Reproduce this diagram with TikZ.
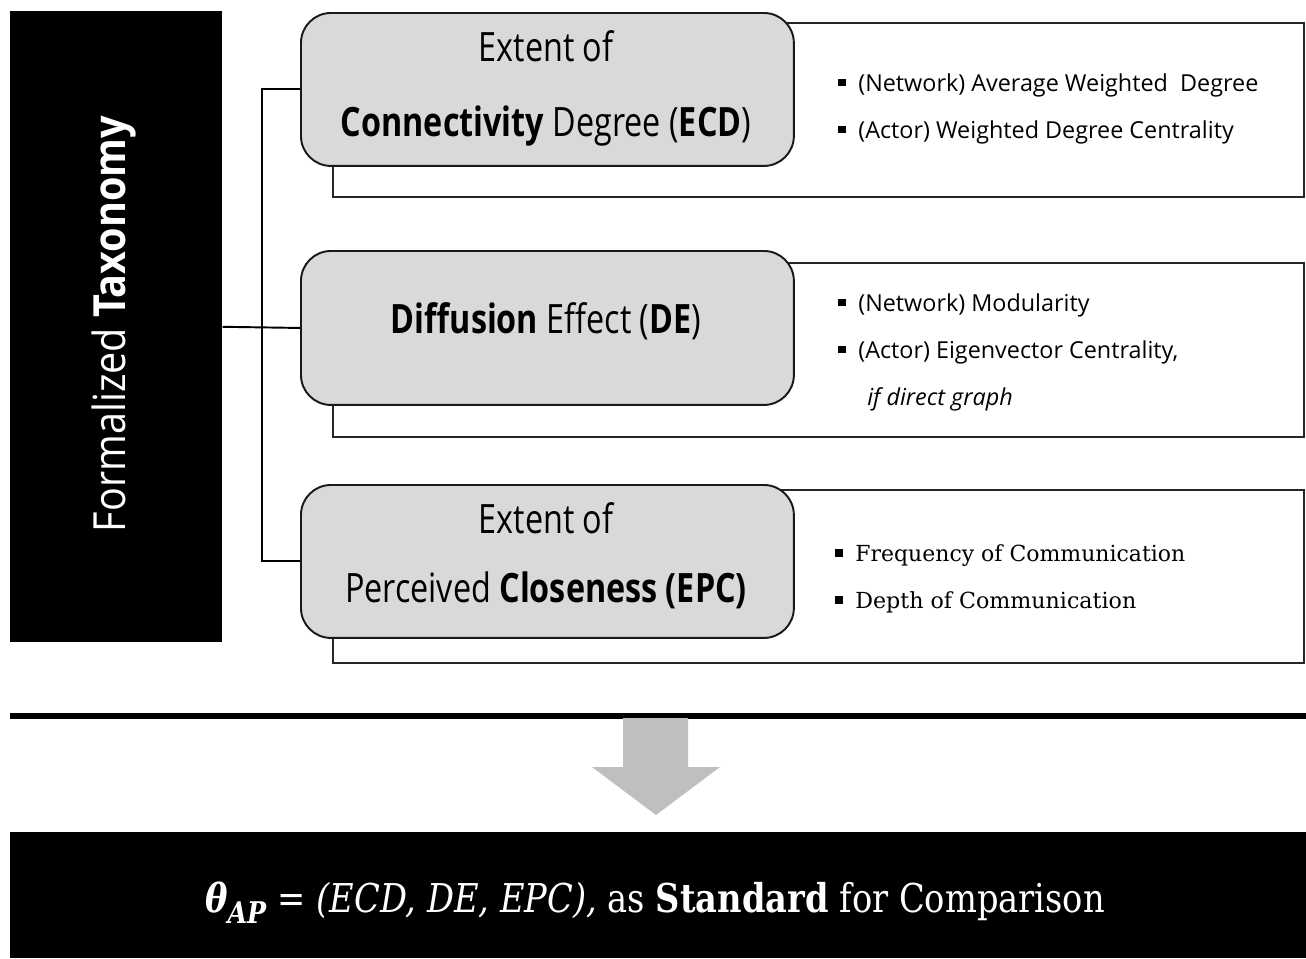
\documentclass[tikz,border=0pt]{standalone}
\usepackage{fontspec}
\usepackage{graphicx}
\setmainfont{Open Sans}
\newfontfamily\serifface{DejaVu Serif}
\usetikzlibrary{positioning}

\definecolor{titlefill}{HTML}{D9D9D9}
\definecolor{arrowgray}{HTML}{BFBFBF}

% small square bullet used in the lists
\newcommand\sqmark{\rule[0.2em]{0.15cm}{0.15cm}\hspace{0.25cm}}
% heading lines are set a little narrow
\newcommand\headline[1]{\scalebox{0.8}[1]{#1}}

\begin{document}
\begin{tikzpicture}[x=0.02cm,y=-0.02cm,
  taxbox/.style={fill=black, draw=none, anchor=north west, inner sep=0pt,
    minimum width=4.24cm, minimum height=12.62cm},
  listbox/.style={draw=black!85, fill=white, line width=1pt, anchor=north west,
    inner sep=0pt, minimum width=19.42cm},
  titlebox/.style={draw=black!90, fill=titlefill, line width=1.1pt, rounded corners=0.6cm,
    anchor=north west, inner sep=0pt, minimum width=9.86cm},
  headtxt/.style={anchor=base, inner sep=0pt, font=\fontsize{23}{26}\selectfont},
  itemtxt/.style={anchor=base west, inner sep=0pt, font=\fontsize{13.3}{16}\selectfont},
  seritem/.style={anchor=base west, inner sep=0pt, font=\serifface\fontsize{12.6}{16}\selectfont},
  link/.style={draw=black, line width=1.1pt},
]
\useasboundingbox (0,0) rectangle (1306,958);

% left label
\node[taxbox] (tax) at (10,11) {};
\node[rotate=90, anchor=base, inner sep=0pt, text=white,
      font=\fontsize{22.5}{26}\selectfont] (taxtxt) at (125,324)
  {\scalebox{1}[1.12]{Formalized \textbf{Taxonomy}}};

% list panels (behind the headings)
\node[listbox, minimum height=3.48cm] (ecdlist) at (332,22) {};
\node[listbox, minimum height=3.48cm] (delist) at (332,262) {};
\node[listbox, minimum height=3.46cm] (epclist) at (332,489) {};

% headings
\node[titlebox, minimum height=3.06cm] (ecd) at (300,12) {};
\node[titlebox, minimum height=3.08cm] (de) at (300,250) {};
\node[titlebox, minimum height=3.06cm] (epc) at (300,484) {};

\node[headtxt] (ecd1) at (546,61) {\headline{Extent of}};
\node[headtxt] (ecd2) at (546,136) {\headline{\textbf{Connectivity} Degree (\textbf{ECD})}};
\node[headtxt] (de1) at (546,333) {\headline{\textbf{Diffusion} Effect (\textbf{DE})}};
\node[headtxt] (epc1) at (546,533) {\headline{Extent of}};
\node[headtxt] (epc2) at (546,602) {\headline{Perceived \textbf{Closeness (EPC)}}};

% connectors
\coordinate (spine) at (262,327);
\draw[link] (ecd.west) -| (spine) |- (epc.west);
\draw[link] (tax.east) -- (de.west);

% list entries
\node[itemtxt] (ecdi1) at (838,91) {\sqmark(Network) Average Weighted \ Degree};
\node[itemtxt] (ecdi2) at (838,138) {\sqmark(Actor) Weighted Degree Centrality};
\node[itemtxt] (dei1) at (838,311) {\sqmark(Network) Modularity};
\node[itemtxt] (dei2) at (838,358) {\sqmark(Actor) Eigenvector Centrality,};
\node[itemtxt] (dei3) at (867,405) {\textit{if direct graph}};
\node[seritem] (epci1) at (835,561) {\sqmark\resizebox{6.6cm}{\height}{Frequency of Communication}};
\node[seritem] (epci2) at (835,608) {\sqmark\resizebox{5.62cm}{\height}{Depth of Communication}};

% separator and downward arrow
\draw[line width=0.11cm] (10,716) -- (1306,716);
\fill[arrowgray] (623,718) -- (688,718) -- (688,767) -- (720,767) -- (656,815)
  -- (592,767) -- (623,767) -- cycle;

% result bar
\node[fill=black, anchor=north west, inner sep=0pt, minimum width=25.92cm,
      minimum height=2.52cm] (result) at (10,832) {};
\node[anchor=base, inner sep=0pt, text=white, font=\serifface\fontsize{22.6}{30}\selectfont]
  (resulttxt) at (655,912)
  {\resizebox{18cm}{\height}{\textbf{\textit{θ}}\raisebox{-0.28em}{\fontsize{17}{20}\selectfont\textbf{\textit{AP}}}
   = \textit{(ECD, DE, EPC),} as \textbf{Standard} for Comparison}};
\end{tikzpicture}
\end{document}
